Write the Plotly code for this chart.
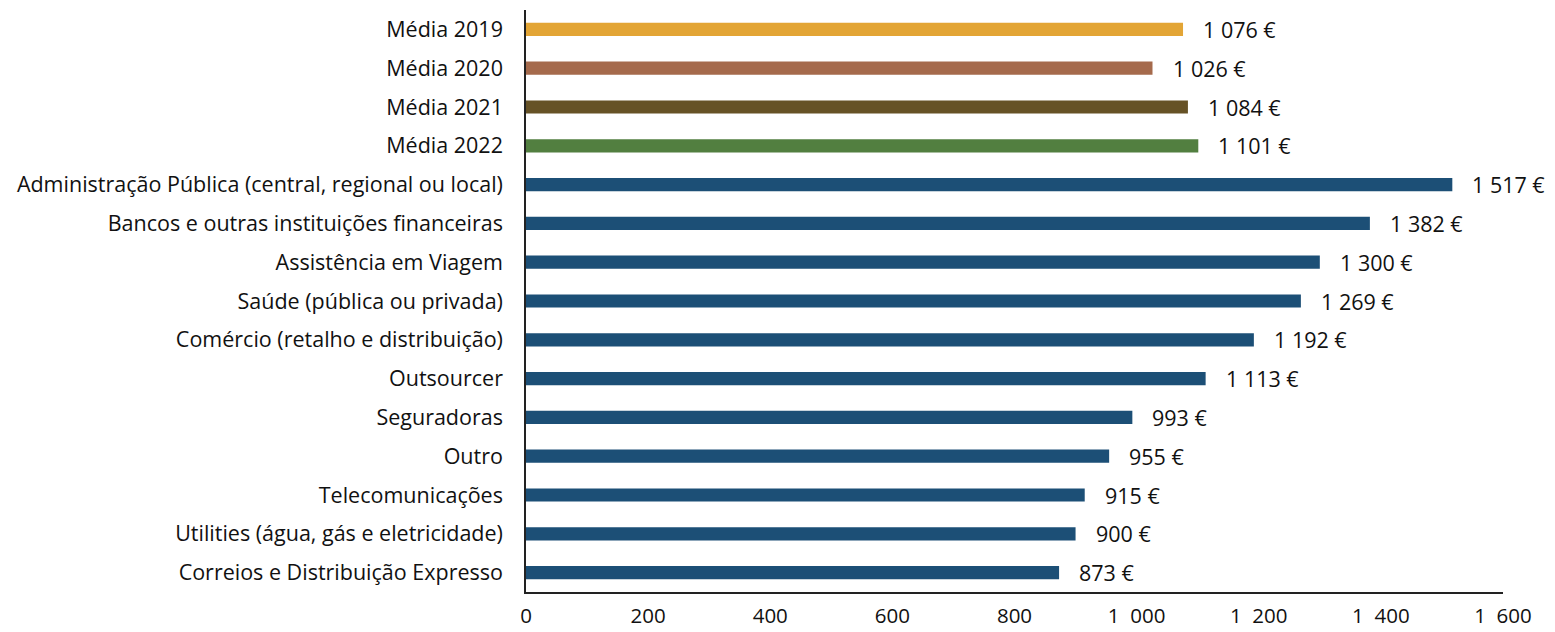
import plotly.graph_objects as go

# Categories, top to bottom
categories = [
    "Média 2019",
    "Média 2020",
    "Média 2021",
    "Média 2022",
    "Administração Pública (central, regional ou local)",
    "Bancos e outras instituições financeiras",
    "Assistência em Viagem",
    "Saúde (pública ou privada)",
    "Comércio (retalho e distribuição)",
    "Outsourcer",
    "Seguradoras",
    "Outro",
    "Telecomunicações",
    "Utilities (água, gás e eletricidade)",
    "Correios e Distribuição Expresso",
]
values = [1076, 1026, 1084, 1101, 1517, 1382, 1300, 1269, 1192, 1113, 993, 955, 915, 900, 873]
bar_colors = ["#E3A535", "#A56A4C", "#665226", "#527F40"] + ["#1C4F76"] * 11

tick_vals = [0, 200, 400, 600, 800, 1000, 1200, 1400, 1600]
tick_text = ["0", "200", "400", "600", "800", "1\u00a0\u00a0000", "1\u00a0\u00a0200", "1\u00a0\u00a0400", "1\u00a0\u00a0600"]


def fmt(v):
    s = f"{v:,}".replace(",", "\u00a0")
    return s + "\u00a0€"


FONT = "Open Sans"
SIZE = 21.5

fig = go.Figure(
    go.Bar(
        x=values,
        y=categories,
        orientation="h",
        marker=dict(color=bar_colors, line=dict(width=0)),
        width=0.34,
        hoverinfo="x+y",
    )
)

for c, v in zip(categories, values):
    fig.add_annotation(
        x=v, y=c, text=fmt(v), showarrow=False,
        xanchor="left", yanchor="middle", xshift=18,
        font=dict(family=FONT, size=SIZE, color="#111111"),
    )

fig.update_layout(
    width=1555, height=632,
    margin=dict(l=526, r=52, t=10, b=40, autoexpand=False),
    paper_bgcolor="white", plot_bgcolor="white",
    showlegend=False,
    font=dict(family=FONT, size=SIZE, color="#111111"),
    bargap=0.66,
)
fig.update_xaxes(
    range=[0, 1600], tickvals=tick_vals, ticktext=tick_text, automargin=False,
    showgrid=False, zeroline=False, showline=True, linecolor="#222222", linewidth=1.5,
    ticks="", ticklabelstandoff=5, tickfont=dict(family=FONT, size=20.5, color="#111111"),
)
fig.update_yaxes(
    autorange="reversed", showgrid=False, zeroline=False, automargin=False,
    showline=True, linecolor="#222222", linewidth=1.5, ticks="",
    ticklabelstandoff=17, tickfont=dict(family=FONT, size=SIZE, color="#111111"),
)

fig.write_html("out.html")
